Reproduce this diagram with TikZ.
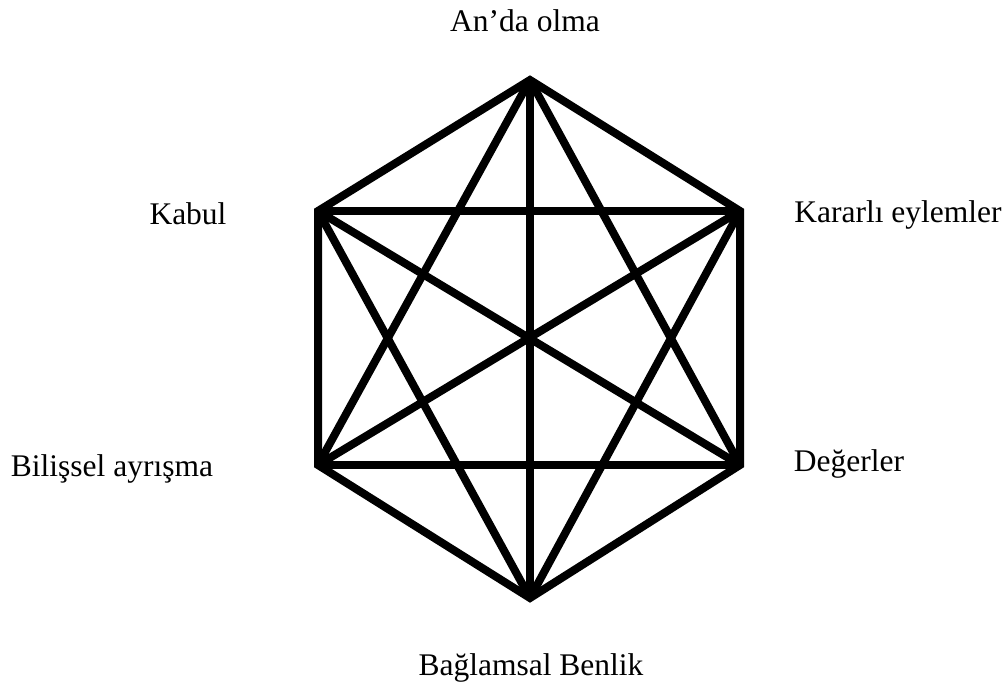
\documentclass[tikz,border=0pt]{standalone}
\usepackage{fontspec}
\setmainfont{Liberation Serif}
\begin{document}
\begin{tikzpicture}[x=1pt,y=-1pt,
  edge/.style={line width=8pt,black},
  lbl/.style={inner sep=0pt,anchor=base,font=\fontsize{31.5}{36}\selectfont}]
\useasboundingbox[fill=white] (0,0) rectangle (1006,686);
\coordinate (T) at (530,80);
\coordinate (UR) at (740,211);
\coordinate (LR) at (740,465);
\coordinate (B) at (530,598);
\coordinate (LL) at (318,465);
\coordinate (UL) at (318,211);
\draw[edge,line join=miter] (T) -- (UR) -- (LR) -- (B) -- (LL) -- (UL) -- cycle;
\draw[edge] (T) -- (LR);
\draw[edge] (T) -- (B);
\draw[edge] (T) -- (LL);
\draw[edge] (UR) -- (B);
\draw[edge] (UR) -- (LL);
\draw[edge] (UR) -- (UL);
\draw[edge] (LR) -- (LL);
\draw[edge] (LR) -- (UL);
\draw[edge] (B) -- (UL);
\node[lbl] (tA) at (525,31) {An’da olma};
\node[lbl] (tK) at (188,224) {Kabul};
\node[lbl] (tKE) at (898,222) {Kararlı eylemler};
\node[lbl] (tB) at (112,476) {Bilişsel ayrışma};
\node[lbl] (tD) at (849,471) {Değerler};
\node[lbl] (tBB) at (531,675) {Bağlamsal Benlik};
\end{tikzpicture}
\end{document}
